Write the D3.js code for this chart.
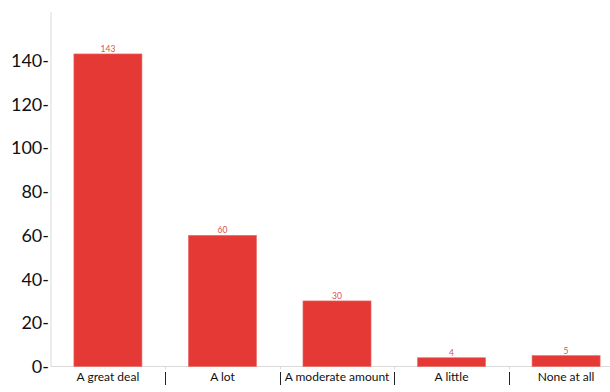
<!DOCTYPE html>
<html>
<head>
<meta charset="utf-8">
<script src="https://cdn.jsdelivr.net/npm/d3@7/dist/d3.min.js"></script>
<style>
  html, body { margin: 0; padding: 0; background: #fff; }
  svg { display: block; }
</style>
</head>
<body>
<svg id="chart" width="610" height="392"></svg>
<script>
const categories = ["A great deal", "A lot", "A moderate amount", "A little", "None at all"];
const values = [143, 60, 30, 4, 5];
const yTicks = [0, 20, 40, 60, 80, 100, 120, 140];

const svg = d3.select("#chart");
const x0 = 51, yBase = 366.5, yTop = 12;
const font = "Lato, 'Open Sans', sans-serif";

const x = d3.scaleBand()
  .domain(categories)
  .range([x0, 623])
  .paddingInner(0.406)
  .paddingOuter(0.2);

const y = d3.scaleLinear()
  .domain([0, 140])
  .range([yBase, 60.5]);

// axis lines
svg.append("line")
  .attr("x1", x0).attr("x2", x0)
  .attr("y1", yTop).attr("y2", yBase)
  .attr("stroke", "#d9d9d9").attr("stroke-width", 1);
svg.append("line")
  .attr("x1", x0).attr("x2", 610)
  .attr("y1", yBase).attr("y2", yBase)
  .attr("stroke", "#d9d9d9").attr("stroke-width", 1);

// y tick labels with trailing dash
svg.append("g").selectAll("text")
  .data(yTicks)
  .join("text")
  .attr("x", 49)
  .attr("y", d => y(d))
  .attr("dy", "0.36em")
  .attr("text-anchor", "end")
  .attr("font-family", font)
  .attr("font-size", 18)
  .attr("fill", "#111")
  .text(d => d + "-");

// bars
svg.append("g").selectAll("rect")
  .data(categories)
  .join("rect")
  .attr("x", d => x(d))
  .attr("width", x.bandwidth())
  .attr("y", (d, i) => y(values[i]))
  .attr("height", (d, i) => yBase - y(values[i]))
  .attr("fill", "#e53935")
  .attr("stroke", "#ea6a66")
  .attr("stroke-width", 0.6);

// value labels
svg.append("g").selectAll("text")
  .data(categories)
  .join("text")
  .attr("x", d => x(d) + x.bandwidth() / 2)
  .attr("y", (d, i) => y(values[i]) - 2)
  .attr("text-anchor", "middle")
  .attr("font-family", font)
  .attr("font-size", 8.5)
  .attr("fill", "#d9534f")
  .text((d, i) => values[i]);

// band boundary ticks and separators
const bounds = categories.slice(1).map(d => Math.round(x(d) - x.step() * x.paddingInner() / 2) + 0.5);
svg.append("g").selectAll("line")
  .data(bounds)
  .join("line")
  .attr("x1", d => d).attr("x2", d => d)
  .attr("y1", yBase).attr("y2", yBase + 3)
  .attr("stroke", "#d9d9d9");
svg.append("g").selectAll("line")
  .data(bounds)
  .join("line")
  .attr("class", "sep")
  .attr("x1", d => d).attr("x2", d => d)
  .attr("y1", 372).attr("y2", 385)
  .attr("stroke", "#222")
  .attr("stroke-width", 1);

// category labels
svg.append("g").selectAll("text")
  .data(categories)
  .join("text")
  .attr("x", d => x(d) + x.bandwidth() / 2)
  .attr("y", 381)
  .attr("text-anchor", "middle")
  .attr("font-family", font)
  .attr("font-size", 12)
  .attr("fill", "#111")
  .text(d => d);
</script>
</body>
</html>
